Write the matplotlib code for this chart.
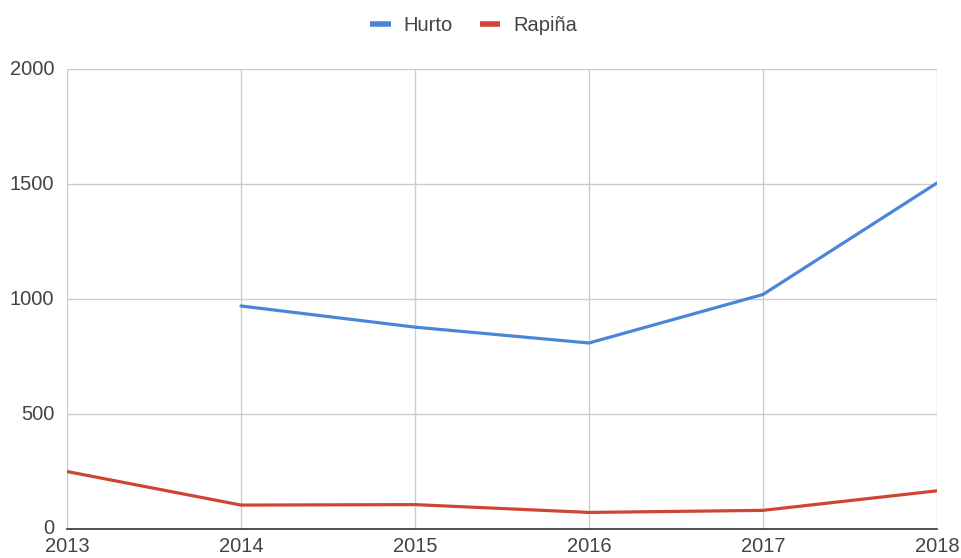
import numpy as np
import matplotlib.pyplot as plt
from matplotlib.lines import Line2D

plt.rcParams['font.family'] = ['Liberation Sans', 'DejaVu Sans']

# Yearly counts
years = [2013, 2014, 2015, 2016, 2017, 2018]
hurto = [np.nan, 970, 878, 809, 1020, 1505]
rapina = [250, 104, 106, 72, 81, 166]

yticks = [0, 500, 1000, 1500, 2000]

blue = '#4a86d8'
red = '#cf4535'
text_col = '#444444'

fig = plt.figure(figsize=(9.61, 5.58), dpi=100)
ax = fig.add_axes([0.0697, 0.052, 0.9053, 0.824])

ax.plot(years, hurto, color=blue, lw=2.3, solid_capstyle='round', zorder=3)
ax.plot(years, rapina, color=red, lw=2.3, solid_capstyle='round', zorder=3)

ax.set_xlim(years[0], years[-1])
ax.set_ylim(0, 2000)
ax.set_xticks(years)
ax.set_yticks(yticks)

ax.grid(True, color='#cccccc', lw=1.0, zorder=0)
for side in ['top', 'right', 'left']:
    ax.spines[side].set_visible(False)
ax.spines['bottom'].set_color('#333333')
ax.spines['bottom'].set_linewidth(1.2)
ax.spines['bottom'].set_zorder(4)

ax.tick_params(axis='both', length=0, labelsize=14.5, labelcolor=text_col)
ax.tick_params(axis='x', pad=6)
ax.tick_params(axis='y', pad=9)
for lbl in ax.get_yticklabels():
    lbl.set_verticalalignment('center')

handles = [Line2D([], [], color=blue, lw=4, solid_capstyle='butt'),
           Line2D([], [], color=red, lw=4, solid_capstyle='butt')]
fig.legend(handles, ['Hurto', 'Rapiña'], loc='center', bbox_to_anchor=(0.493, 0.955),
           ncol=2, frameon=False, fontsize=14.5, handlelength=1.0,
           handletextpad=0.65, columnspacing=1.35, labelcolor=text_col)

fig.savefig('out.png', dpi=100)
